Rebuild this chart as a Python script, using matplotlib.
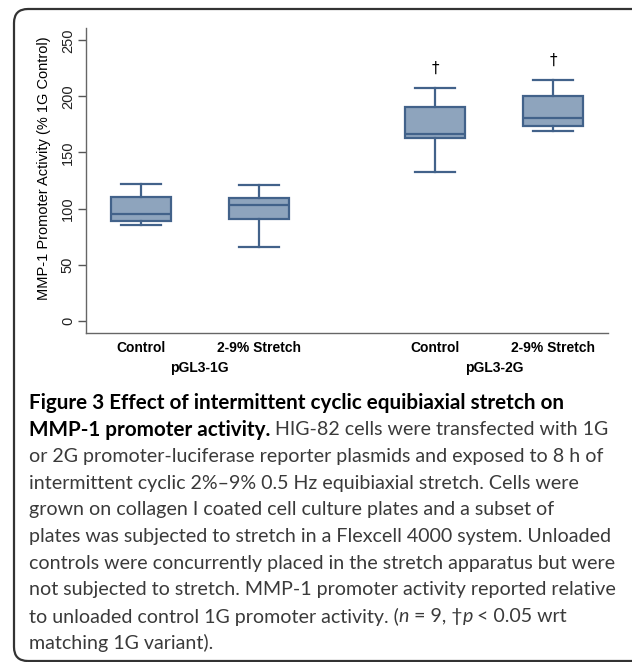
import matplotlib
matplotlib.use("Agg")
import matplotlib.pyplot as plt
from matplotlib.patches import FancyBboxPatch

# box statistics
groups = ["pGL3-1G", "pGL3-2G"]
conditions = ["Control", "2-9% Stretch", "Control", "2-9% Stretch"]
positions = [1, 2, 3.5, 4.5]
whislo = [85, 66, 133, 169]
q1 = [89, 90.5, 163, 173.5]
med = [95, 103, 166.5, 181]
q3 = [110, 109.5, 190.5, 200.5]
whishi = [122, 121, 207.5, 214.5]
dagger_y = [225, 232]  # only the 2G boxes carry a dagger
yticks = [0, 50, 100, 150, 200, 250]

fill = "#8ea4bd"
edge = "#42628a"

fig = plt.figure(figsize=(6.32, 6.62), dpi=100)
W, H = 632, 662

# rounded frame around the whole figure
frame = FancyBboxPatch((14, 1), 640, H - 10, boxstyle="round,pad=0,rounding_size=14",
                       transform=None, fill=False, ec="#333333", lw=1.6)
fig.patches.append(frame)

ax = fig.add_axes([86 / W, 1 - 333 / H, 522 / W, 305 / H])
stats = []
for i in range(len(positions)):
    stats.append({"whislo": whislo[i], "q1": q1[i], "med": med[i], "q3": q3[i],
                  "whishi": whishi[i], "fliers": []})
ax.bxp(stats, positions=positions, widths=0.51, capwidths=0.34, showfliers=False,
       patch_artist=True,
       boxprops=dict(facecolor=fill, edgecolor=edge, lw=1.6),
       medianprops=dict(color=edge, lw=1.6),
       whiskerprops=dict(color=edge, lw=1.6),
       capprops=dict(color=edge, lw=1.6))

for x, y in zip(positions[2:], dagger_y):
    ax.text(x, y, "\u2020", ha="center", va="center", fontsize=11, color="black")

ax.set_xlim(0.534, 4.966)
ax.set_ylim(-11, 261)
ax.set_yticks(yticks)
ax.set_yticklabels([str(t) for t in yticks], rotation=90, va="center",
                   fontsize=10.5, family="Liberation Sans", color="#222222")
ax.tick_params(axis="y", length=6, width=1, color="#555555", pad=2)
ax.set_xticks(positions)
ax.set_xticklabels(conditions, fontsize=10, fontweight="bold", family="Liberation Sans")
ax.tick_params(axis="x", length=0, pad=6)
ax.set_ylabel("MMP-1 Promoter Activity (% 1G Control)", fontsize=10.5,
              family="Liberation Sans", labelpad=3)
ax.yaxis.set_label_coords(-0.068, 0.54)
for s in ["top", "right"]:
    ax.spines[s].set_visible(False)
for s in ["left", "bottom"]:
    ax.spines[s].set_color("#666666")
    ax.spines[s].set_linewidth(1)

for g, x in zip(groups, [1.5, 4.0]):
    ax.annotate(g, xy=(x, 0), xycoords=("data", "axes fraction"), xytext=(0, -35),
                textcoords="offset pixels", ha="center", va="center",
                fontsize=10, fontweight="bold", family="Liberation Sans")

# caption, drawn line by line with bold / italic runs
bold = dict(fontweight="bold", color="black", fontsize=14.9)
reg = dict(color="#3a3a3a", fontsize=14.1)
ital = dict(color="#3a3a3a", style="italic", fontsize=14.1)
caption = [
    [("Figure 3 Effect of intermittent cyclic equibiaxial stretch on", bold)],
    [("MMP-1 promoter activity.", bold), ("HIG-82 cells were transfected with 1G", reg)],
    [("or 2G promoter-luciferase reporter plasmids and exposed to 8 h of", reg)],
    [("intermittent cyclic 2%\u20139% 0.5 Hz equibiaxial stretch. Cells were", reg)],
    [("grown on collagen I coated cell culture plates and a subset of", reg)],
    [("plates was subjected to stretch in a Flexcell 4000 system. Unloaded", reg)],
    [("controls were concurrently placed in the stretch apparatus but were", reg)],
    [("not subjected to stretch. MMP-1 promoter activity reported relative", reg)],
    [("to unloaded control 1G promoter activity. (", reg), ("n", ital), ("= 9, \u2020", reg),
     ("p", ital), ("< 0.05 wrt", reg)],
    [("matching 1G variant).", reg)],
]
renderer = fig.canvas.get_renderer()
y = 403
for line in caption:
    x = 29
    for k, (txt, kw) in enumerate(line):
        t = fig.text(x / W, 1 - y / H, txt, family="Lato",
                     va="center", ha="left", **kw)
        bb = t.get_window_extent(renderer)
        x += bb.width
        if txt[-1] not in "(\u2020" and k < len(line) - 1:
            x += 4.5
    y += 26.7

fig.savefig("out.png", dpi=100)
